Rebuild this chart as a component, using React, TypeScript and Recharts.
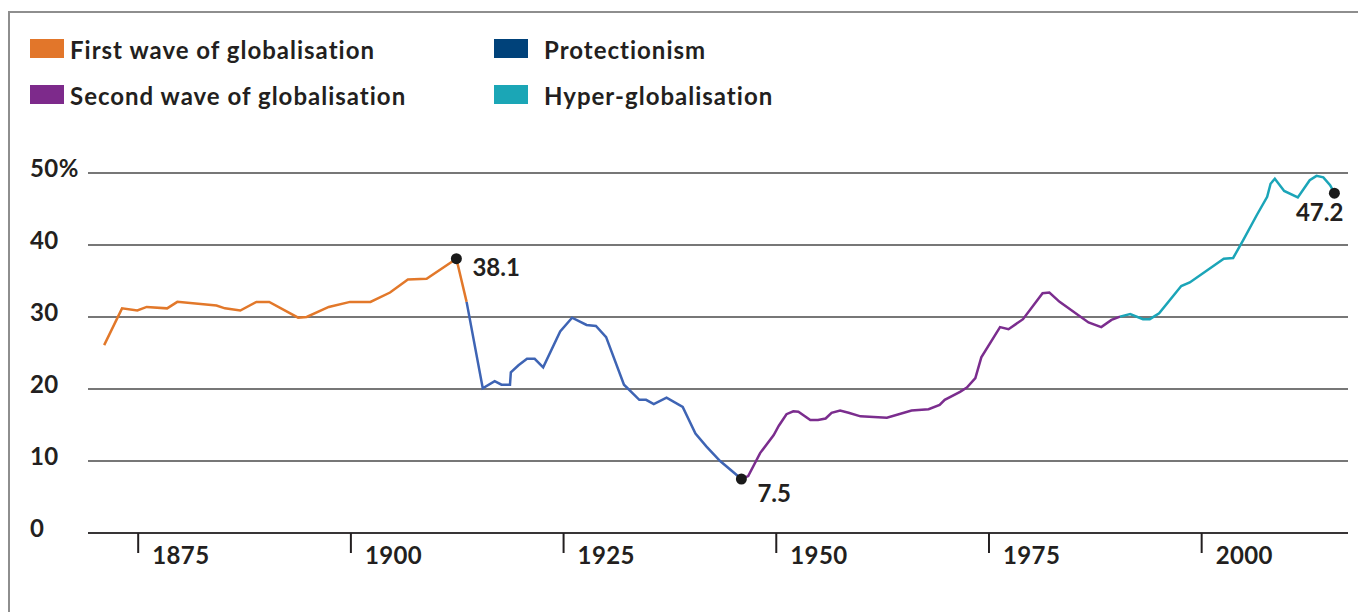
import React from "react"
import { LineChart, Line, XAxis, YAxis, CartesianGrid, ReferenceDot } from "recharts"

// phases of world trade openness, % of GDP (years)
const firstWaveYears = [1871, 1873.1, 1874.9, 1876, 1878.4, 1879.6, 1884.2, 1885.2, 1887, 1888.9, 1890.4, 1893.8, 1894.8, 1897.4, 1899.9, 1902.3, 1904.6, 1906.7, 1908.9, 1912.4, 1913.6]
const firstWaveValues = [26.1, 31.2, 30.9, 31.4, 31.2, 32.1, 31.6, 31.2, 30.9, 32.1, 32.1, 29.9, 30.0, 31.4, 32.1, 32.1, 33.4, 35.2, 35.3, 38.1, 32.1]

const protectionismYears = [1913.6, 1915.5, 1916.9, 1917.7, 1918.7, 1918.8, 1919.7, 1920.7, 1921.6, 1922.6, 1924.6, 1926, 1927.7, 1928.8, 1930, 1932.1, 1933.9, 1934.7, 1935.6, 1937.1, 1939, 1940.5, 1941.8, 1943.4, 1945, 1945.9]
const protectionismValues = [32.1, 20.1, 21.1, 20.6, 20.6, 22.3, 23.3, 24.2, 24.2, 23.0, 28.0, 29.9, 28.9, 28.75, 27.2, 20.6, 18.5, 18.5, 17.9, 18.8, 17.5, 13.8, 12.0, 10.0, 8.4, 7.5]

const secondWaveYears = [1945.9, 1946.7, 1948.1, 1949.7, 1950.3, 1951.2, 1952, 1952.6, 1954, 1954.9, 1955.8, 1956.5, 1957.5, 1958.5, 1959.9, 1963, 1965.9, 1967.9, 1969.2, 1969.8, 1971.6, 1972.4, 1973.4, 1974.1, 1976.3, 1977.3, 1979, 1981.3, 1982.1, 1983.3, 1986.7, 1988.2, 1989.4, 1990.4]
const secondWaveValues = [7.5, 7.9, 11.1, 13.6, 14.9, 16.5, 16.9, 16.85, 15.7, 15.7, 15.9, 16.7, 17.0, 16.7, 16.2, 16.0, 17.0, 17.2, 17.8, 18.5, 19.6, 20.2, 21.5, 24.4, 28.6, 28.3, 29.7, 33.3, 33.4, 32.1, 29.25, 28.6, 29.6, 30.05]

const hyperYears = [1990.4, 1991.6, 1993.1, 1993.9, 1995, 1997.6, 1998.6, 2002.6, 2003.7, 2004.9, 2006.5, 2007.7, 2008.1, 2008.6, 2009.7, 2011.3, 2012.7, 2013.5, 2014.3, 2015.1, 2015.6]
const hyperValues = [30.05, 30.4, 29.7, 29.7, 30.5, 34.3, 34.8, 38.1, 38.2, 40.7, 44.2, 46.7, 48.5, 49.2, 47.5, 46.6, 49.0, 49.6, 49.4, 48.3, 47.2]

const highlightYears = [1912.4, 1945.9, 2015.6]
const highlightValues = [38.1, 7.5, 47.2]

const xTicks = [1875, 1900, 1925, 1950, 1975, 2000]
const yTicks = [0, 10, 20, 30, 40, 50]

const FONT = "Lato, 'Open Sans', sans-serif"
const INK = "#231f20"

const toRows = (years: number[], values: number[]) =>
  years.map((year, i) => ({ year, value: values[i] }))

const series = [
  { name: "First wave of globalisation", color: "#e2782a", swatch: "#e2762a", data: toRows(firstWaveYears, firstWaveValues) },
  { name: "Protectionism", color: "#3e64b4", swatch: "#00427a", data: toRows(protectionismYears, protectionismValues) },
  { name: "Second wave of globalisation", color: "#7b2d8e", swatch: "#7d2a8b", data: toRows(secondWaveYears, secondWaveValues) },
  { name: "Hyper-globalisation", color: "#1ba5b8", swatch: "#1ba6b6", data: toRows(hyperYears, hyperValues) },
]

// where each callout label sits relative to its dot
const calloutOffsets = [
  { dx: 16, dy: 17, anchor: "start" },
  { dx: 16, dy: 23, anchor: "start" },
  { dx: 9, dy: 28, anchor: "end" },
]

function Legend() {
  const items = [
    { s: series[0], sx: 30, tx: 70, y: 39 },
    { s: series[1], sx: 494, tx: 544, y: 39 },
    { s: series[2], sx: 30, tx: 70, y: 85 },
    { s: series[3], sx: 494, tx: 544, y: 85 },
  ]
  return (
    <svg width={1358} height={120} style={{ position: "absolute", left: 0, top: 0 }}>
      {items.map((it) => (
        <g key={it.s.name}>
          <rect x={it.sx} y={it.y} width={34} height={19} fill={it.s.swatch} />
          <text
            x={it.tx}
            y={it.y + 20}
            fontFamily={FONT}
            fontWeight={700}
            fontSize={24}
            letterSpacing={1}
            fill={INK}
          >
            {it.s.name}
          </text>
        </g>
      ))}
    </svg>
  )
}

const XTick = (props: any) => {
  const { x, y, payload } = props
  return (
    <text x={x + 14} y={y + 11} fontFamily={FONT} fontWeight={700} fontSize={24} letterSpacing={0.4} fill={INK} textAnchor="start">
      {payload.value}
    </text>
  )
}

const YTick = (props: any) => {
  const { y, payload } = props
  return (
    <text x={30} y={y + 4} fontFamily={FONT} fontWeight={700} fontSize={24} letterSpacing={0.4} fill={INK} textAnchor="start">
      {payload.value === 50 ? "50%" : payload.value}
    </text>
  )
}

export default function App() {
  return (
    <div style={{ position: "absolute", left: 0, top: 0, width: 1358, height: 612, overflow: "hidden", background: "#fff" }}>
      <div style={{ position: "absolute", left: 8, top: 11, width: 1400, height: 700, border: "2px solid #8e8e8e" }} />
      <Legend />
      <div style={{ position: "absolute", left: 0, top: 0 }}>
        <LineChart width={1358} height={612} margin={{ top: 173, right: 10, bottom: 19, left: 0 }}>
          <CartesianGrid vertical={false} stroke="#4a4a4a" strokeWidth={1.5} />
          <XAxis
            type="number"
            dataKey="year"
            domain={[1869.1, 2017.2]}
            ticks={xTicks}
            allowDataOverflow
            height={60}
            axisLine={{ stroke: INK, strokeWidth: 1.5 }}
            tickLine={{ stroke: INK, strokeWidth: 2 }}
            tickSize={20}
            tickMargin={0}
            tick={<XTick />}
          />
          <YAxis
            type="number"
            domain={[0, 50]}
            ticks={yTicks}
            width={88}
            axisLine={false}
            tickLine={false}
            tickSize={0}
            tickMargin={0}
            tick={<YTick />}
          />
          {series.map((s) => (
            <Line
              key={s.name}
              data={s.data}
              dataKey="value"
              type="linear"
              stroke={s.color}
              strokeWidth={2.5}
              dot={false}
              activeDot={false}
              isAnimationActive={false}
            />
          ))}
          {highlightYears.map((yr, i) => (
            <ReferenceDot
              key={yr}
              x={yr}
              y={highlightValues[i]}
              r={5.5}
              shape={(p: any) => (
                <g>
                  <circle cx={p.cx} cy={p.cy} r={5.5} fill="#1a1a1a" />
                  <text
                    x={p.cx + calloutOffsets[i].dx}
                    y={p.cy + calloutOffsets[i].dy}
                    textAnchor={calloutOffsets[i].anchor as any}
                    fontFamily={FONT}
                    fontWeight={700}
                    fontSize={24}
                    fill={INK}
                  >
                    {highlightValues[i]}
                  </text>
                </g>
              )}
            />
          ))}
        </LineChart>
      </div>
    </div>
  )
}
